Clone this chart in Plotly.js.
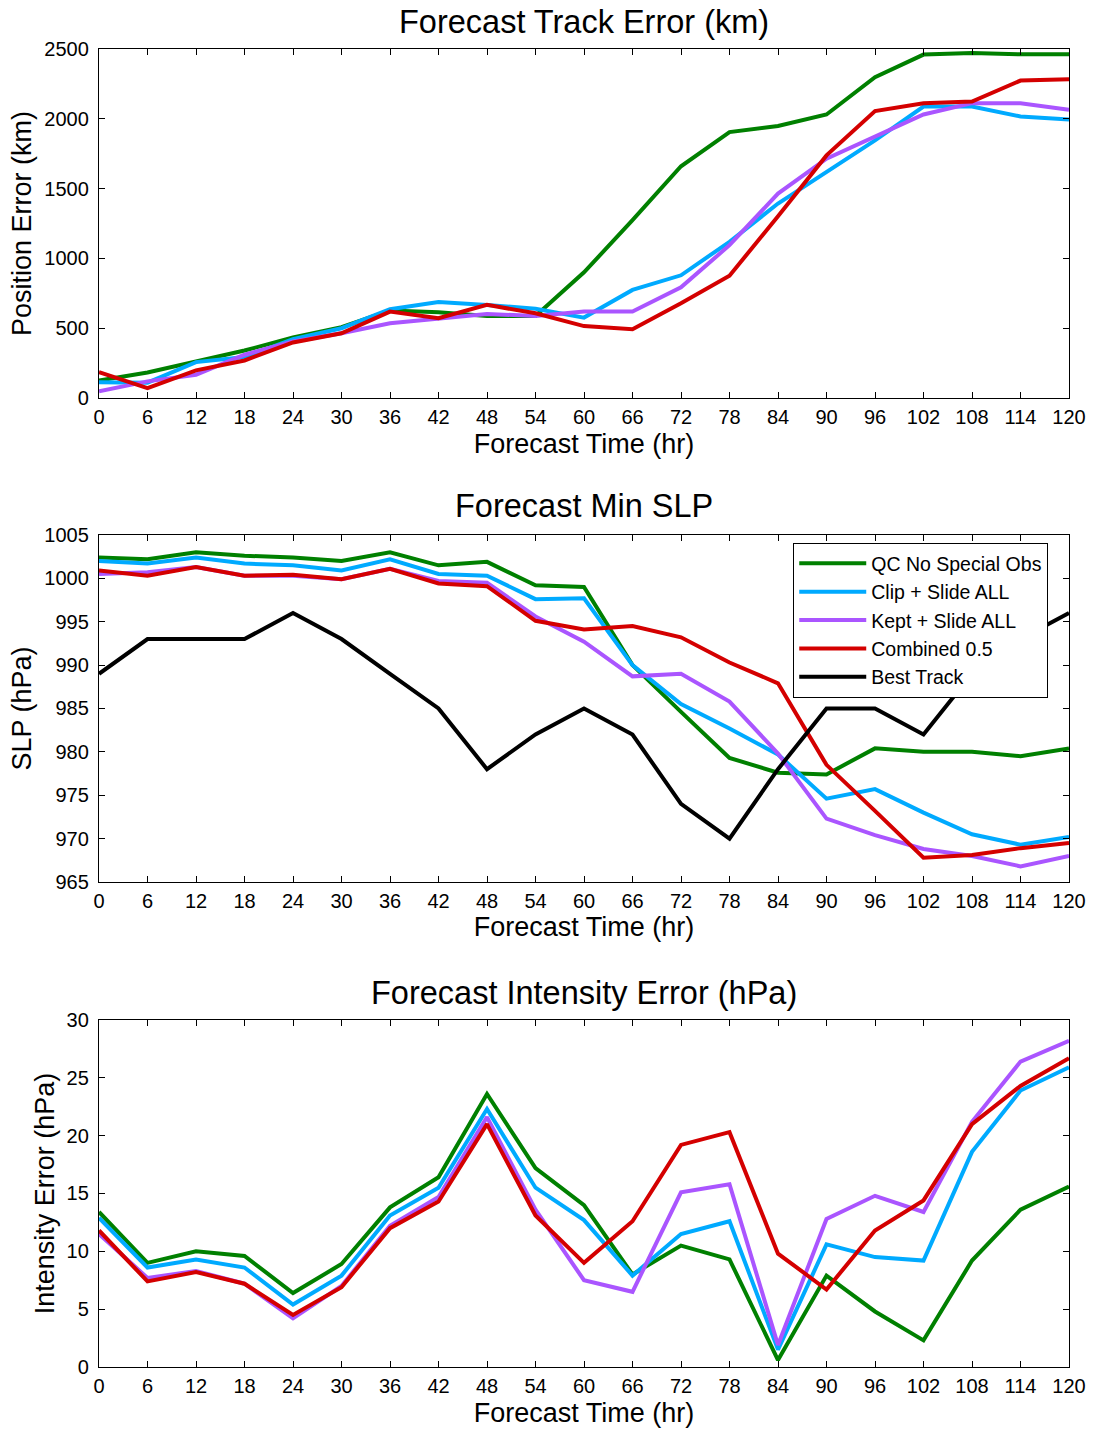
<!DOCTYPE html>
<html>
<head>
<meta charset="utf-8">
<script src="https://cdn.plot.ly/plotly-3.0.1.min.js"></script>
<style>
  html, body { margin: 0; padding: 0; background: #fff; }
  #chart { width: 1093px; height: 1429px; }
</style>
</head>
<body>
<div id="chart"></div>
<script>
// Forecast lead times (hours)
const hours = [0, 6, 12, 18, 24, 30, 36, 42, 48, 54, 60, 66, 72, 78, 84, 90, 96, 102, 108, 114, 120];

const seriesNames = ["QC No Special Obs", "Clip + Slide ALL", "Kept + Slide ALL", "Combined 0.5", "Best Track"];

// Track error (km)
const trackQC       = [126, 183, 262, 340, 433, 507, 626, 614, 588, 588, 900, 1274, 1660, 1905, 1948, 2031, 2298, 2460, 2471, 2462, 2462];
const trackClip     = [112, 110, 257, 293, 421, 500, 636, 688, 667, 640, 576, 774, 879, 1119, 1393, 1619, 1845, 2088, 2088, 2017, 1995];
const trackKept     = [48, 119, 167, 310, 405, 464, 536, 571, 602, 588, 619, 619, 793, 1095, 1464, 1714, 1869, 2031, 2112, 2112, 2064];
const trackCombined = [186, 71, 198, 269, 398, 464, 619, 571, 667, 607, 515, 493, 679, 876, 1302, 1738, 2055, 2112, 2124, 2274, 2283];

// Minimum sea-level pressure (hPa)
const slpQC       = [1002.4, 1002.2, 1003.0, 1002.6, 1002.4, 1002.0, 1003.0, 1001.5, 1001.9, 999.2, 999.0, 990.0, 984.6, 979.3, 977.6, 977.4, 980.4, 980.0, 980.0, 979.5, 980.4];
const slpClip     = [1002.0, 1001.7, 1002.4, 1001.7, 1001.5, 1000.9, 1002.2, 1000.5, 1000.3, 997.6, 997.7, 990.0, 985.5, 982.7, 979.7, 974.6, 975.7, 973.0, 970.5, 969.3, 970.2];
const slpKept     = [1000.5, 1000.7, 1001.3, 1000.3, 1000.3, 999.9, 1001.1, 999.7, 999.5, 995.6, 992.7, 988.7, 989.0, 985.8, 979.8, 972.3, 970.4, 968.8, 968.0, 966.8, 968.0];
const slpCombined = [1000.9, 1000.3, 1001.3, 1000.3, 1000.4, 999.9, 1001.1, 999.4, 999.1, 995.1, 994.1, 994.5, 993.2, 990.3, 987.9, 978.5, 973.2, 967.8, 968.1, 968.9, 969.5];
const slpBest     = [989, 993, 993, 993, 996, 993, 989, 985, 978, 982, 985, 982, 974, 970, 978, 985, 985, 982, 989, 993, 996];

// Intensity error (hPa)
const intQC       = [13.4, 9.0, 10.0, 9.6, 6.4, 8.9, 13.8, 16.4, 23.6, 17.2, 14.0, 8.0, 10.5, 9.3, 0.6, 7.9, 4.8, 2.3, 9.2, 13.6, 15.6];
const intClip     = [12.9, 8.6, 9.3, 8.6, 5.4, 7.9, 13.1, 15.5, 22.3, 15.5, 12.7, 7.9, 11.5, 12.6, 1.5, 10.6, 9.5, 9.2, 18.6, 23.9, 25.9];
const intKept     = [11.5, 7.7, 8.3, 7.2, 4.2, 7.0, 12.2, 14.7, 21.6, 13.6, 7.5, 6.5, 15.1, 15.8, 1.9, 12.8, 14.8, 13.4, 21.2, 26.4, 28.2];
const intCombined = [11.8, 7.4, 8.2, 7.2, 4.5, 6.9, 12.0, 14.3, 21.0, 13.1, 9.0, 12.6, 19.2, 20.3, 9.8, 6.7, 11.8, 14.4, 21.0, 24.3, 26.7];

const colors = ["#008000", "#00aaff", "#aa55ff", "#d40000", "#000000"];

const FONT = "Liberation Sans, Arial, Helvetica, sans-serif";

function line(y, idx, xa, ya, legend) {
  return {
    x: hours, y: y, type: "scatter", mode: "lines",
    name: seriesNames[idx],
    xaxis: xa, yaxis: ya,
    showlegend: legend,
    line: { color: colors[idx], width: 4 },
    hoverinfo: "x+y+name"
  };
}

const traces = [
  line(trackQC, 0, "x", "y", false),
  line(trackClip, 1, "x", "y", false),
  line(trackKept, 2, "x", "y", false),
  line(trackCombined, 3, "x", "y", false),

  line(slpQC, 0, "x2", "y2", true),
  line(slpClip, 1, "x2", "y2", true),
  line(slpKept, 2, "x2", "y2", true),
  line(slpCombined, 3, "x2", "y2", true),
  line(slpBest, 4, "x2", "y2", true),

  line(intQC, 0, "x3", "y3", false),
  line(intClip, 1, "x3", "y3", false),
  line(intKept, 2, "x3", "y3", false),
  line(intCombined, 3, "x3", "y3", false)
];

function xAxis(anchor) {
  return {
    anchor: anchor,
    domain: [0, 1],
    range: [0, 120],
    tickmode: "array",
    tickvals: hours,
    ticktext: hours.map(String),
    ticks: "inside", ticklen: 6, tickwidth: 1, tickcolor: "#000",
    ticklabelstandoff: 1,
    showline: true, linecolor: "#000", linewidth: 1.2, mirror: "ticks",
    showgrid: false, zeroline: false,
    tickfont: { family: FONT, size: 20, color: "#000" },
    title: { text: "Forecast Time (hr)", font: { family: FONT, size: 27, color: "#000" }, standoff: 6 },
    automargin: false
  };
}

function yAxis(anchor, domain, range, dtick, title) {
  return {
    anchor: anchor,
    domain: domain,
    range: range,
    dtick: dtick,
    tick0: range[0],
    ticks: "inside", ticklen: 6, tickwidth: 1, tickcolor: "#000",
    ticklabelstandoff: 5,
    showline: true, linecolor: "#000", linewidth: 1.2, mirror: "ticks",
    showgrid: false, zeroline: false,
    tickfont: { family: FONT, size: 20, color: "#000" },
    title: { text: title, font: { family: FONT, size: 27, color: "#000" }, standoff: 4 },
    automargin: false
  };
}

const layout = {
  width: 1093, height: 1429,
  paper_bgcolor: "#fff", plot_bgcolor: "#fff",
  margin: { l: 99, r: 24, t: 49, b: 62 },
  font: { family: FONT, color: "#000" },
  showlegend: true,
  xaxis: xAxis("y"),
  yaxis: yAxis("x", [0.7352, 1.0], [0, 2500], 500, "Position Error (km)"),
  xaxis2: xAxis("y2"),
  yaxis2: yAxis("x2", [0.3680, 0.6313], [965, 1005], 5, "SLP (hPa)"),
  xaxis3: xAxis("y3"),
  yaxis3: yAxis("x3", [0, 0.2633], [0, 30], 5, "Intensity Error (hPa)"),
  legend: {
    x: 0.7155, y: 0.6252, xanchor: "left", yanchor: "top",
    bgcolor: "#fff", bordercolor: "#000", borderwidth: 1.2,
    font: { family: FONT, size: 19.5, color: "#000" },
    tracegroupgap: 0, itemwidth: 67
  },
  annotations: [
    { text: "Forecast Track Error (km)", x: 0.5, y: 1.0205, xref: "paper", yref: "paper",
      xanchor: "center", yanchor: "middle", showarrow: false,
      font: { family: FONT, size: 32.5, color: "#000" } },
    { text: "Forecast Min SLP", x: 0.5, y: 0.6533, xref: "paper", yref: "paper",
      xanchor: "center", yanchor: "middle", showarrow: false,
      font: { family: FONT, size: 32.5, color: "#000" } },
    { text: "Forecast Intensity Error (hPa)", x: 0.5, y: 0.2838, xref: "paper", yref: "paper",
      xanchor: "center", yanchor: "middle", showarrow: false,
      font: { family: FONT, size: 32.5, color: "#000" } }
  ]
};

Plotly.newPlot("chart", traces, layout, { displayModeBar: false, staticPlot: true });
</script>
</body>
</html>
